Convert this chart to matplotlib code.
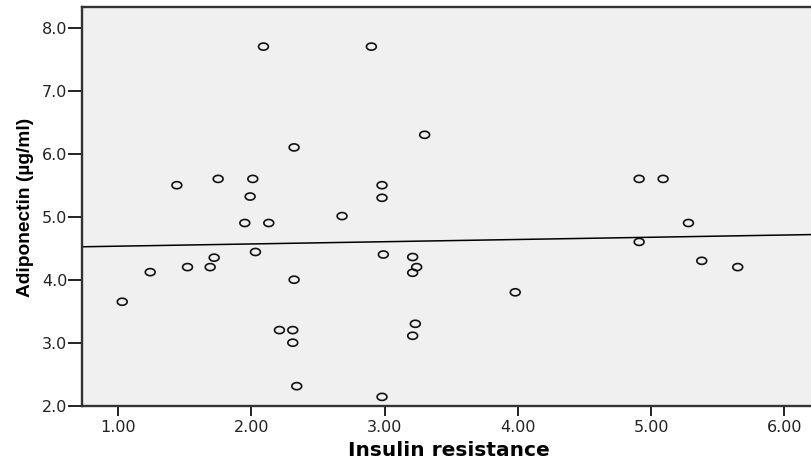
import numpy as np
import matplotlib
matplotlib.use("Agg")
import matplotlib.pyplot as plt
from matplotlib.path import Path

insulin_resistance = [2.09, 2.90, 2.32, 1.44, 1.75, 2.01, 1.99, 1.95, 2.13, 2.68, 2.98, 2.98,
                      3.30, 4.91, 5.09, 5.28,
                      2.03, 1.03, 1.24, 1.52, 1.69, 1.72, 2.32, 2.21, 2.31, 2.31, 2.34, 2.99,
                      2.98, 3.21, 3.21, 3.24, 3.23, 3.21,
                      3.98, 4.91, 5.38, 5.65]
adiponectin = [7.70, 7.70, 6.10, 5.50, 5.60, 5.60, 5.32, 4.90, 4.90, 5.01, 5.50, 5.30,
               6.30, 5.60, 5.60, 4.90,
               4.44, 3.65, 4.12, 4.20, 4.20, 4.35, 4.00, 3.20, 3.20, 3.00, 2.31, 4.40,
               2.14, 4.36, 4.11, 4.20, 3.30, 3.11,
               3.80, 4.60, 4.30, 4.20]

x_ticks = [1.0, 2.0, 3.0, 4.0, 5.0, 6.0]
x_ticklabels = ["1.00", "2.00", "3.00", "4.00", "5.00", "6.00"]
y_ticks = [2.0, 3.0, 4.0, 5.0, 6.0, 7.0, 8.0]
y_ticklabels = ["2.0", "3.0", "4.0", "5.0", "6.0", "7.0", "8.0"]

W, H = 812, 463
fig = plt.figure(figsize=(W / 100, H / 100), dpi=100)
left, right, top, bottom = 82, 815, 7.3, 405.7
ax = fig.add_axes([left / W, 1 - bottom / H, (right - left) / W, (bottom - top) / H])
ax.set_facecolor("#f0f0f0")

xlim = (0.728, 6.23)
ylim = (2.0, 8.324)
ax.set_xlim(*xlim)
ax.set_ylim(*ylim)

# ellipse marker (open, slightly flattened circles)
t = np.linspace(0, 2 * np.pi, 41)
ell = Path(np.column_stack([np.cos(t), 0.72 * np.sin(t)]), closed=True)
ax.scatter(insulin_resistance, adiponectin, marker=ell, s=50, facecolors="none",
           edgecolors="#111111", linewidths=1.2, zorder=3)

slope, intercept = np.polyfit(insulin_resistance, adiponectin, 1)
xs = np.array(xlim)
ax.plot(xs, intercept + slope * xs, color="black", lw=1.1, zorder=2)

ax.set_xticks(x_ticks)
ax.set_xticklabels(x_ticklabels)
ax.set_yticks(y_ticks)
ax.set_yticklabels(y_ticklabels)

for lab in ax.get_xticklabels() + ax.get_yticklabels():
    lab.set_fontfamily("DejaVu Sans")
    lab.set_fontsize(11.5)
    lab.set_color("#222222")
ax.tick_params(axis="y", length=10, width=1.4, pad=0.5, color="#222222")
ax.tick_params(axis="x", length=7.5, width=1.4, pad=2.5, color="#222222")

for side in ["left", "bottom", "top"]:
    ax.spines[side].set_linewidth(1.7)
    ax.spines[side].set_color("#333333")
ax.spines["right"].set_visible(False)

fig.text(449 / W, 1 - 455.5 / H, "Insulin resistance", ha="center", va="baseline",
         fontfamily="DejaVu Sans", fontweight="bold", fontsize=14.5)
fig.text(26 / W, 1 - 207 / H, "Adiponectin (µg/ml)", ha="center", va="center", rotation=90,
         fontfamily="Liberation Sans", fontweight="bold", fontsize=13.8)

fig.savefig("out.png", dpi=100)
